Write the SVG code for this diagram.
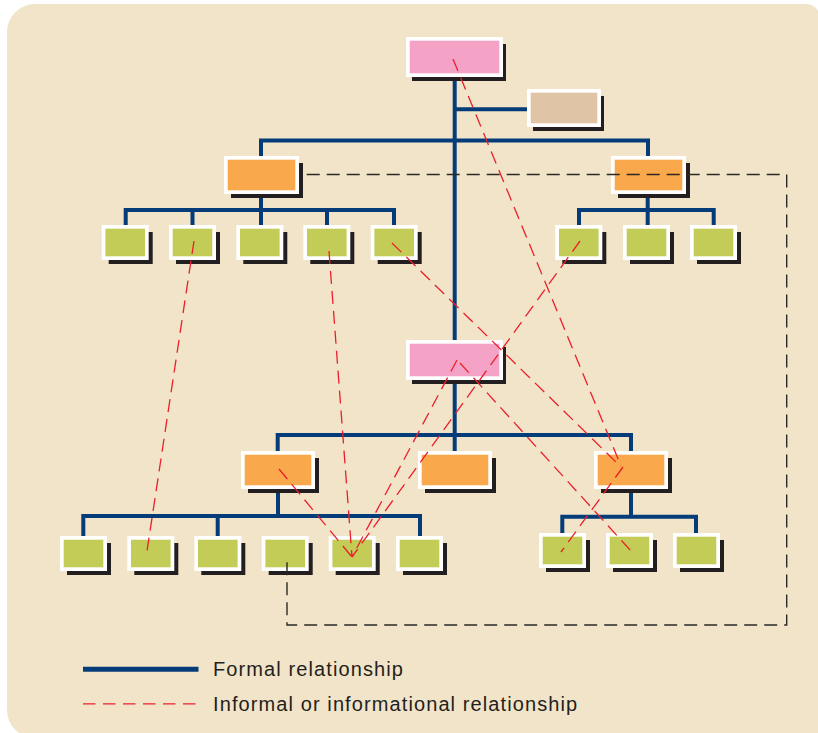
<svg xmlns="http://www.w3.org/2000/svg" width="818" height="733" viewBox="0 0 818 733">
<defs>
<style>
.sh{fill:#231f20}
.wb{fill:#ffffff}
.pink{fill:#f4a3c7}
.tan{fill:#e0c4a6}
.org{fill:#f9a84b}
.grn{fill:#c2cc57}
.formal{fill:none;stroke:#033c78;stroke-width:4}
.inf{fill:none;stroke:#ea1f2b;stroke-width:1.3;stroke-dasharray:13 7}
.blk{fill:none;stroke:#2b2826;stroke-width:1.4;stroke-dasharray:13 7}
.lbl{font-family:"Liberation Sans",Arial,sans-serif;font-size:20px;letter-spacing:1.1px;fill:#231f20}
</style>
</defs>
<rect width="818" height="733" fill="#ffffff"/>
<path d="M7,32 A28,28 0 0 1 35,4 L806,4 A14,14 0 0 1 820,18 L820,726 A12,12 0 0 1 808,738 L35,738 A28,28 0 0 1 7,710 Z" fill="#f2e4c8"/>

<g id="formal-connectors">
<path class="formal" d="M454.7,77 V340 M454.7,380 V451 M454.7,109.3 H527"/>
<path class="formal" d="M261,156 V140.5 H648 V156"/>
<path class="formal" d="M261,194 V225 M125.7,225 V210 H394 V225 M192.5,210 V225 M327,210 V225"/>
<path class="formal" d="M647.7,194 V225 M579,225 V210 H713.7 V225"/>
<path class="formal" d="M277.7,451 V435 H631 V451"/>
<path class="formal" d="M278,489 V516 M83.3,536 V516 H420 V536 M217.7,516 V536"/>
<path class="formal" d="M631,489 V516.7 M562.3,533 V516.7 H696 V533"/>
</g>

<g id="n-top"><rect class="sh" x="412" y="44" width="94" height="37"/><rect class="wb" x="406" y="37" width="97" height="40"/><rect class="pink" x="409.7" y="40.7" width="89.6" height="32.6"/></g>
<g id="n-staff"><rect class="sh" x="533" y="96" width="71" height="35"/><rect class="wb" x="527" y="89" width="74" height="38"/><rect class="tan" x="530.7" y="92.7" width="66.6" height="30.6"/></g>

<g id="n-l1-left"><rect class="sh" x="231" y="163" width="72" height="35"/><rect class="wb" x="224" y="156" width="75" height="38"/><rect class="org" x="227.7" y="159.7" width="67.6" height="30.6"/></g>
<g id="n-l1-right"><rect class="sh" x="618" y="163" width="72" height="35"/><rect class="wb" x="611" y="156" width="75" height="38"/><rect class="org" x="614.7" y="159.7" width="67.6" height="30.6"/></g>

<g id="n-tl1"><rect class="sh" x="108.7" y="232" width="44" height="32"/><rect class="wb" x="101.7" y="225" width="47" height="35"/><rect class="grn" x="105.4" y="228.7" width="39.6" height="27.6"/></g>
<g id="n-tl2"><rect class="sh" x="176" y="232" width="44" height="32"/><rect class="wb" x="169" y="225" width="47" height="35"/><rect class="grn" x="172.7" y="228.7" width="39.6" height="27.6"/></g>
<g id="n-tl3"><rect class="sh" x="243.3" y="232" width="44" height="32"/><rect class="wb" x="236.3" y="225" width="47" height="35"/><rect class="grn" x="240" y="228.7" width="39.6" height="27.6"/></g>
<g id="n-tl4"><rect class="sh" x="310.3" y="232" width="44" height="32"/><rect class="wb" x="303.3" y="225" width="47" height="35"/><rect class="grn" x="307" y="228.7" width="39.6" height="27.6"/></g>
<g id="n-tl5"><rect class="sh" x="377.7" y="232" width="44" height="32"/><rect class="wb" x="370.7" y="225" width="47" height="35"/><rect class="grn" x="374.4" y="228.7" width="39.6" height="27.6"/></g>

<g id="n-tr1"><rect class="sh" x="562.3" y="232" width="44" height="32"/><rect class="wb" x="555.3" y="225" width="47" height="35"/><rect class="grn" x="559" y="228.7" width="39.6" height="27.6"/></g>
<g id="n-tr2"><rect class="sh" x="630" y="232" width="44" height="32"/><rect class="wb" x="623" y="225" width="47" height="35"/><rect class="grn" x="626.7" y="228.7" width="39.6" height="27.6"/></g>
<g id="n-tr3"><rect class="sh" x="697" y="232" width="44" height="32"/><rect class="wb" x="690" y="225" width="47" height="35"/><rect class="grn" x="693.7" y="228.7" width="39.6" height="27.6"/></g>

<g id="n-mid"><rect class="sh" x="412" y="347" width="94" height="37"/><rect class="wb" x="406" y="340" width="97" height="40"/><rect class="pink" x="409.7" y="343.7" width="89.6" height="32.6"/></g>

<g id="n-l2-left"><rect class="sh" x="248" y="458" width="71" height="35"/><rect class="wb" x="241" y="451" width="74" height="38"/><rect class="org" x="244.7" y="454.7" width="66.6" height="30.6"/></g>
<g id="n-l2-mid"><rect class="sh" x="425" y="458" width="71" height="35"/><rect class="wb" x="418" y="451" width="74" height="38"/><rect class="org" x="421.7" y="454.7" width="66.6" height="30.6"/></g>
<g id="n-l2-right"><rect class="sh" x="601" y="458" width="71" height="35"/><rect class="wb" x="594" y="451" width="74" height="38"/><rect class="org" x="597.7" y="454.7" width="66.6" height="30.6"/></g>

<g id="n-bl1"><rect class="sh" x="67" y="543" width="44" height="32"/><rect class="wb" x="60" y="536" width="47" height="35"/><rect class="grn" x="63.7" y="539.7" width="39.6" height="27.6"/></g>
<g id="n-bl2"><rect class="sh" x="134.3" y="543" width="44" height="32"/><rect class="wb" x="127.3" y="536" width="47" height="35"/><rect class="grn" x="131" y="539.7" width="39.6" height="27.6"/></g>
<g id="n-bl3"><rect class="sh" x="201.3" y="543" width="44" height="32"/><rect class="wb" x="194.3" y="536" width="47" height="35"/><rect class="grn" x="198" y="539.7" width="39.6" height="27.6"/></g>
<g id="n-bl4"><rect class="sh" x="268.7" y="543" width="44" height="32"/><rect class="wb" x="261.7" y="536" width="47" height="35"/><rect class="grn" x="265.4" y="539.7" width="39.6" height="27.6"/></g>
<g id="n-bl5"><rect class="sh" x="335.7" y="543" width="44" height="32"/><rect class="wb" x="328.7" y="536" width="47" height="35"/><rect class="grn" x="332.4" y="539.7" width="39.6" height="27.6"/></g>
<g id="n-bl6"><rect class="sh" x="403" y="543" width="44" height="32"/><rect class="wb" x="396" y="536" width="47" height="35"/><rect class="grn" x="399.7" y="539.7" width="39.6" height="27.6"/></g>

<g id="n-br1"><rect class="sh" x="546" y="540" width="44" height="32"/><rect class="wb" x="539" y="533" width="47" height="35"/><rect class="grn" x="542.7" y="536.7" width="39.6" height="27.6"/></g>
<g id="n-br2"><rect class="sh" x="613" y="540" width="44" height="32"/><rect class="wb" x="606" y="533" width="47" height="35"/><rect class="grn" x="609.7" y="536.7" width="39.6" height="27.6"/></g>
<g id="n-br3"><rect class="sh" x="680" y="540" width="44" height="32"/><rect class="wb" x="673" y="533" width="47" height="35"/><rect class="grn" x="676.7" y="536.7" width="39.6" height="27.6"/></g>

<g id="informal-connectors">
<path class="blk" d="M306.7,174.5 H786.7 V625 H287 V561.7"/>
<path class="inf" d="M453,59 L621,466"/>
<path class="inf" d="M623,467 L561,552"/>
<path class="inf" d="M460,363 L631,551"/>
<path class="inf" d="M392,243 L620,466"/>
<path class="inf" d="M580,241 L352,557"/>
<path class="inf" d="M457,360 L352,557"/>
<path class="inf" d="M329,251 L352,557"/>
<path class="inf" d="M279,469 L352,557"/>
<path class="inf" d="M194,241 L147,551"/>
</g>

<g id="legend">
<line x1="83" y1="669.3" x2="198.5" y2="669.3" stroke="#033c78" stroke-width="5"/>
<text class="lbl" x="213" y="676">Formal relationship</text>
<line x1="83" y1="703.8" x2="197" y2="703.8" stroke="#ea1f2b" stroke-width="1.3" stroke-dasharray="12.5 7.5"/>
<text class="lbl" x="213" y="711">Informal or informational relationship</text>
</g>
</svg>
